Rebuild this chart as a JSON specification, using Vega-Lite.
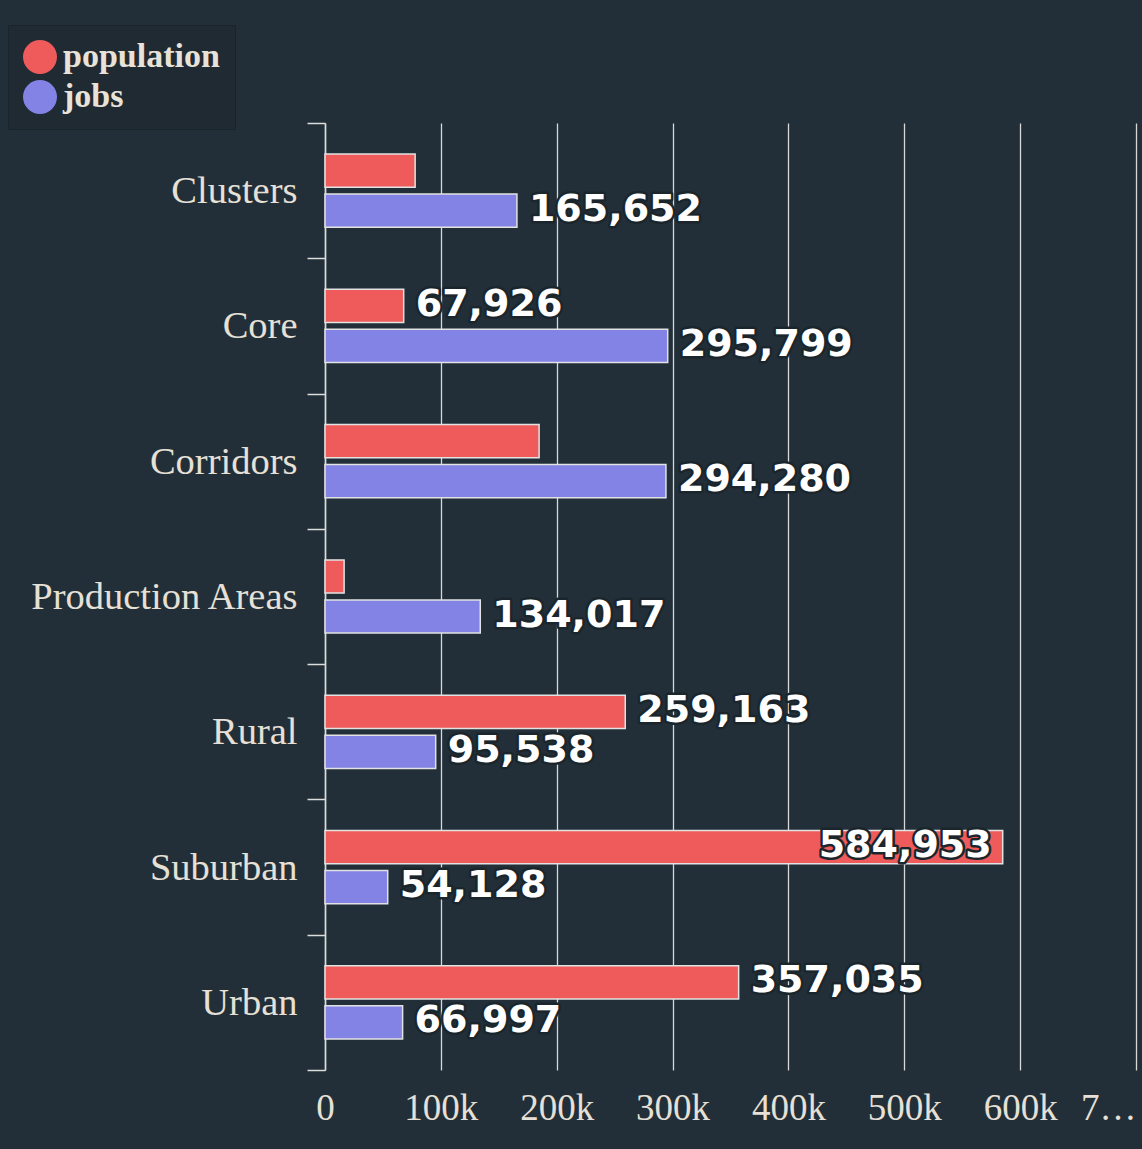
{
  "$schema": "https://vega.github.io/schema/vega-lite/v6.json",
  "autosize": {"type": "none"},
  "width": 811,
  "height": 947,
  "padding": {"left": 325, "top": 123, "right": 6, "bottom": 79},
  "background": "#222f38",
  "config": {"view": {"stroke": null}},
  "data": {
    "values": [
      {"category": "Clusters", "series": "population", "value": 77800},
      {"category": "Clusters", "series": "jobs", "value": 165652},
      {"category": "Core", "series": "population", "value": 67926},
      {"category": "Core", "series": "jobs", "value": 295799},
      {"category": "Corridors", "series": "population", "value": 184800},
      {"category": "Corridors", "series": "jobs", "value": 294280},
      {"category": "Production Areas", "series": "population", "value": 16500},
      {"category": "Production Areas", "series": "jobs", "value": 134017},
      {"category": "Rural", "series": "population", "value": 259163},
      {"category": "Rural", "series": "jobs", "value": 95538},
      {"category": "Suburban", "series": "population", "value": 584953},
      {"category": "Suburban", "series": "jobs", "value": 54128},
      {"category": "Urban", "series": "population", "value": 357035},
      {"category": "Urban", "series": "jobs", "value": 66997}
    ]
  },
  "encoding": {
    "y": {
      "field": "category",
      "type": "nominal",
      "sort": ["Clusters", "Core", "Corridors", "Production Areas", "Rural", "Suburban", "Urban"],
      "scale": {"paddingInner": 0, "paddingOuter": 0},
      "axis": {
        "title": null,
        "tickBand": "extent",
        "domainColor": "#dcdcdc",
        "domainWidth": 1.5,
        "tickColor": "#dcdcdc",
        "tickWidth": 1.5,
        "tickSize": 18,
        "labelPadding": 10,
        "labelFont": "Liberation Serif",
        "labelFontSize": 38.5,
        "labelColor": "#e6e0d6",
        "labelLimit": 400,
        "grid": false
      }
    },
    "yOffset": {
      "field": "series",
      "sort": ["population", "jobs"],
      "scale": {"paddingInner": 0.17, "paddingOuter": 0.776}
    },
    "x": {
      "field": "value",
      "type": "quantitative",
      "scale": {"domain": [0, 700000], "nice": false},
      "axis": {
        "title": null,
        "values": [0, 100000, 200000, 300000, 400000, 500000, 600000, 700000],
        "labelExpr": "datum.value == 700000 ? '7…' : (datum.value == 0 ? '0' : format(datum.value / 1000, 'd') + 'k')",
        "labelAlign": {"condition": {"test": "datum.value == 700000", "value": "right"}, "value": "center"},
        "domain": false,
        "ticks": false,
        "grid": true,
        "gridColor": "#d8d8d8",
        "gridWidth": 1.3,
        "labelPadding": 20,
        "labelFont": "Liberation Serif",
        "labelFontSize": 37,
        "labelColor": "#e6e0d6",
        "labelOverlap": false
      }
    }
  },
  "layer": [
    {
      "mark": {"type": "bar", "stroke": "#e2e2e2", "strokeWidth": 1.5},
      "encoding": {
        "color": {
          "field": "series",
          "type": "nominal",
          "scale": {"domain": ["population", "jobs"], "range": ["#ef5b5b", "#8383e6"]},
          "legend": {
            "title": null,
            "orient": "none",
            "legendX": -317,
            "legendY": -98,
            "direction": "vertical",
            "symbolType": "circle",
            "symbolSize": 1156,
            "symbolStrokeWidth": 0,
            "labelFont": "Liberation Serif",
            "labelFontWeight": "bold",
            "labelFontSize": 34,
            "labelColor": "#e8e2d8",
            "labelOffset": 6,
            "rowPadding": 6,
            "padding": 15,
            "fillColor": "#1f2a32",
            "strokeColor": "#1a242b",
            "labelLimit": 300
          }
        }
      }
    },
    {
      "transform": [
        {"filter": "!(datum.series == 'population' && (datum.category == 'Clusters' || datum.category == 'Corridors' || datum.category == 'Production Areas'))"},
        {"filter": "datum.value < 500000"}
      ],
      "mark": {"type": "text", "align": "left", "baseline": "middle", "dx": 12, "dy": -1, "font": "DejaVu Sans", "fontWeight": "bold", "fontSize": 38, "fill": "#1b252c", "stroke": "#1b252c", "strokeWidth": 5, "strokeJoin": "round"},
      "encoding": {"text": {"field": "value", "type": "quantitative", "format": ","}}
    },
    {
      "transform": [
        {"filter": "!(datum.series == 'population' && (datum.category == 'Clusters' || datum.category == 'Corridors' || datum.category == 'Production Areas'))"},
        {"filter": "datum.value < 500000"}
      ],
      "mark": {"type": "text", "align": "left", "baseline": "middle", "dx": 12, "dy": -1, "font": "DejaVu Sans", "fontWeight": "bold", "fontSize": 38, "fill": "#ffffff"},
      "encoding": {"text": {"field": "value", "type": "quantitative", "format": ","}}
    },
    {
      "transform": [{"filter": "datum.value >= 500000"}],
      "mark": {"type": "text", "align": "right", "baseline": "middle", "dx": -11, "dy": -1, "font": "DejaVu Sans", "fontWeight": "bold", "fontSize": 38, "fill": "#1b252c", "stroke": "#1b252c", "strokeWidth": 5, "strokeJoin": "round"},
      "encoding": {"text": {"field": "value", "type": "quantitative", "format": ","}}
    },
    {
      "transform": [{"filter": "datum.value >= 500000"}],
      "mark": {"type": "text", "align": "right", "baseline": "middle", "dx": -11, "dy": -1, "font": "DejaVu Sans", "fontWeight": "bold", "fontSize": 38, "fill": "#ffffff"},
      "encoding": {"text": {"field": "value", "type": "quantitative", "format": ","}}
    }
  ]
}
